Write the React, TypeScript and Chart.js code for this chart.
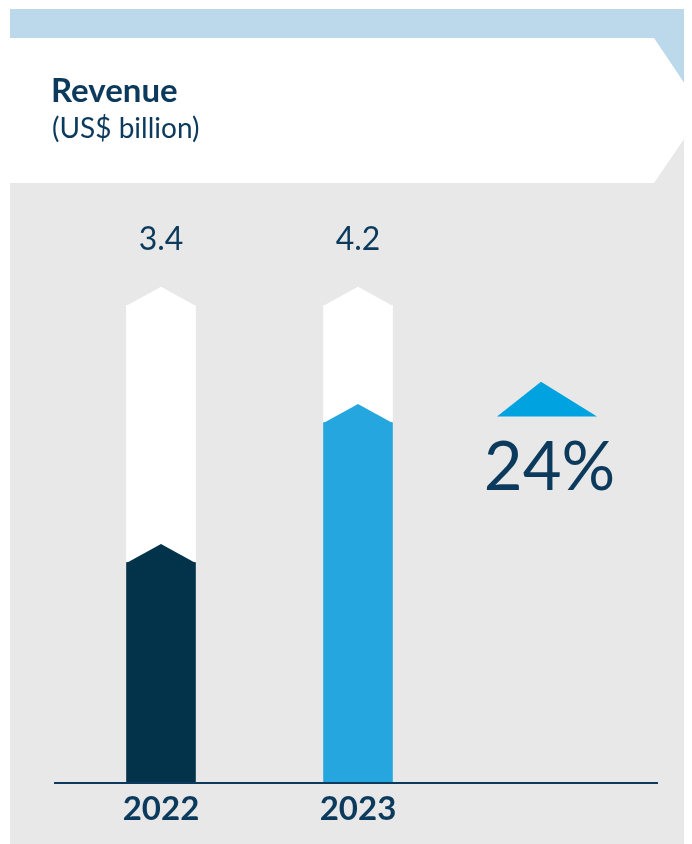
import React, { useEffect, useRef } from "react";
import { Chart, registerables } from "chart.js";

Chart.register(...registerables);

// ---- data ----
const categories = ["2022", "2023", ""];
const revenueValues = [3.4, 4.2];
const trackValues = [4.87, 4.87];
const valueLabels = ["3.4", "4.2"];
const titleText = "Revenue";
const subtitleText = "(US$ billion)";

// ---- styles ----
const TEXT = "#0b3a5c";
const BAR_COLORS = ["#03334b", "#26a6de"];
const TRACK = "#ffffff";
const GRAY = "#e8e8e8";
const STRIP = "#bbd9ea";
const ARROW = "#00a2df";
const FONT = "Lato, 'Open Sans', sans-serif";
const CAP_H = 18.5;

const panelPlugin = {
  id: "panel",
  beforeDraw(chart: any) {
    const { ctx, width: W, height: H } = chart;
    ctx.save();
    ctx.fillStyle = GRAY;
    ctx.fillRect(2, 1, W - 2, H - 1);
    ctx.fillStyle = STRIP;
    ctx.fillRect(2, 1, W - 2, 102);
    ctx.fillStyle = "#ffffff";
    ctx.beginPath();
    ctx.moveTo(2, 30);
    ctx.lineTo(646, 30);
    ctx.lineTo(695, 103);
    ctx.lineTo(646, 175);
    ctx.lineTo(2, 175);
    ctx.closePath();
    ctx.fill();
    ctx.restore();
  },
};

const capsPlugin = {
  id: "caps",
  afterDatasetDraw(chart: any, args: any) {
    const { ctx } = chart;
    const meta = args.meta;
    const ds = chart.data.datasets[args.index];
    ctx.save();
    meta.data.forEach((el: any, i: number) => {
      if (el.skip || el.y == null || isNaN(el.y)) return;
      const half = el.width / 2;
      const col = Array.isArray(ds.backgroundColor) ? ds.backgroundColor[i] : ds.backgroundColor;
      ctx.fillStyle = col;
      ctx.beginPath();
      ctx.moveTo(el.x - half, el.y + 0.5);
      ctx.lineTo(el.x, el.y - CAP_H);
      ctx.lineTo(el.x + half, el.y + 0.5);
      ctx.closePath();
      ctx.fill();
    });
    ctx.restore();
  },
};

const overlayPlugin = {
  id: "overlay",
  afterDatasetsDraw(chart: any) {
    const { ctx, chartArea } = chart;
    const xScale = chart.scales.x;
    const yScale = chart.scales.y;
    const trackMeta = chart.getDatasetMeta(1);
    ctx.save();
    // value labels
    ctx.fillStyle = TEXT;
    ctx.font = `400 32px ${FONT}`;
    ctx.textAlign = "center";
    ctx.textBaseline = "alphabetic";
    trackMeta.data.forEach((el: any, i: number) => {
      ctx.fillText(valueLabels[i], el.x, el.y - 55);
    });
    // baseline
    const by = yScale.getPixelForValue(yScale.min);
    ctx.strokeStyle = TEXT;
    ctx.lineWidth = 2;
    ctx.beginPath();
    ctx.moveTo(chartArea.left - 8.5, by);
    ctx.lineTo(chartArea.right + 4.5, by);
    ctx.stroke();
    // change indicator
    const c = xScale.getPixelForValue(2);
    const change = Math.round((revenueValues[1] / revenueValues[0] - 1) * 100);
    ctx.fillStyle = ARROW;
    ctx.beginPath();
    ctx.moveTo(c - 58, 408.5);
    ctx.lineTo(c - 14, 373.7);
    ctx.lineTo(c + 42, 408.5);
    ctx.closePath();
    ctx.fill();
    ctx.fillStyle = TEXT;
    ctx.font = `400 67px ${FONT}`;
    ctx.fillText(`${change}%`, c - 5.5, 482);
    ctx.restore();
  },
};

export default function App() {
  const ref = useRef<HTMLCanvasElement | null>(null);
  useEffect(() => {
    if (!ref.current) return;
    const chart = new Chart(ref.current, {
      type: "bar",
      data: {
        labels: categories,
        datasets: [
          {
            label: "Revenue",
            data: revenueValues,
            backgroundColor: BAR_COLORS,
            barThickness: 69,
            grouped: false,
            borderWidth: 0,
          } as any,
          {
            label: "Track",
            data: trackValues,
            backgroundColor: [TRACK, TRACK],
            barThickness: 69,
            grouped: false,
            borderWidth: 0,
          } as any,
        ],
      },
      options: {
        responsive: false,
        animation: false,
        layout: { padding: { top: 257, left: 54.5, right: 38.5, bottom: 0 } },
        plugins: {
          legend: { display: false },
          tooltip: { enabled: false },
          title: { display: false },
        },
        scales: {
          x: {
            grid: { display: false, drawTicks: false },
            border: { display: false },
            ticks: {
              color: TEXT,
              font: { family: FONT, size: 33, weight: "bold" },
              padding: 7,
              maxRotation: 0,
            },
            afterFit: (axis: any) => {
              axis.height = 61;
            },
          },
          y: {
            display: false,
            min: 2.14,
            max: 5.1,
          },
        },
      },
      plugins: [panelPlugin, capsPlugin, overlayPlugin],
    });
    return () => chart.destroy();
  }, []);

  return (
    <div style={{ position: "relative", width: 684, height: 836 }}>
      <canvas ref={ref} width={684} height={836} style={{ display: "block", width: 684, height: 836 }} />
      <div
        style={{
          position: "absolute",
          left: 43,
          top: 64.5,
          fontFamily: FONT,
          fontWeight: 700,
          fontSize: 33,
          lineHeight: "33px",
          color: TEXT,
          whiteSpace: "nowrap",
        }}
      >
        {titleText}
      </div>
      <div
        style={{
          position: "absolute",
          left: 44,
          top: 104.5,
          fontFamily: FONT,
          fontWeight: 400,
          fontSize: 28,
          lineHeight: "28px",
          color: TEXT,
          whiteSpace: "nowrap",
        }}
      >
        {subtitleText}
      </div>
    </div>
  );
}
